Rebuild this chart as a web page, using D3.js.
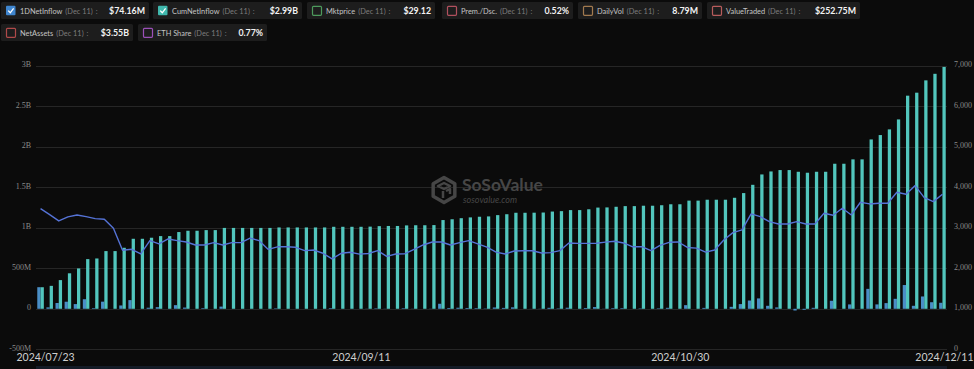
<!DOCTYPE html>
<html><head><meta charset="utf-8">
<script src="https://cdn.jsdelivr.net/npm/d3@7"></script>
<style>
html,body{margin:0;padding:0;background:#0b0b0b;}
svg{display:block;}
</style></head><body>
<svg id="chart" width="974" height="369"></svg>
<script>
// ---------- DATA ----------
const dates = [
"2024/07/23","2024/07/24","2024/07/25","2024/07/26","2024/07/29","2024/07/30","2024/07/31",
"2024/08/01","2024/08/02","2024/08/05","2024/08/06","2024/08/07","2024/08/08","2024/08/09","2024/08/12","2024/08/13","2024/08/14","2024/08/15","2024/08/16","2024/08/19","2024/08/20","2024/08/21","2024/08/22","2024/08/23","2024/08/26","2024/08/27","2024/08/28","2024/08/29","2024/08/30",
"2024/09/03","2024/09/04","2024/09/05","2024/09/06","2024/09/09","2024/09/10","2024/09/11","2024/09/12","2024/09/13","2024/09/16","2024/09/17","2024/09/18","2024/09/19","2024/09/20","2024/09/23","2024/09/24","2024/09/25","2024/09/26","2024/09/27","2024/09/30",
"2024/10/01","2024/10/02","2024/10/03","2024/10/04","2024/10/07","2024/10/08","2024/10/09","2024/10/10","2024/10/11","2024/10/14","2024/10/15","2024/10/16","2024/10/17","2024/10/18","2024/10/21","2024/10/22","2024/10/23","2024/10/24","2024/10/25","2024/10/28","2024/10/29","2024/10/30","2024/10/31",
"2024/11/01","2024/11/04","2024/11/05","2024/11/06","2024/11/07","2024/11/08","2024/11/11","2024/11/12","2024/11/13","2024/11/14","2024/11/15","2024/11/18","2024/11/19","2024/11/20","2024/11/21","2024/11/22","2024/11/25","2024/11/26","2024/11/27","2024/11/29",
"2024/12/02","2024/12/03","2024/12/04","2024/12/05","2024/12/06","2024/12/09","2024/12/10","2024/12/11"
];
// daily net inflow, $M
const netInflow1D = [
266.5,17.4,71.3,87.2,58,118,8,88,0,41,
107,0,13,20,0,45,15,0,8,0,
27,0,0,0,0,0,6,0,0,0,
0,0,8,0,0,0,2,6,2,0,
7,2,0,2,62,10,13,10,8,4,
16,11,18,0,1,2,12,5,13,0,
10,21,2,8,8,0,5,0,6,12,
0,45,0,11,0,0,24,58,102,128,
37,17,0,-21,-12,12,0,99,0,54,
0,246,54,70,123,293,37,152,81,74.16
];
// cumulative net inflow, $M
const cumNetInflow = [
266,283,354,438,498,613,621,712,712,753,
864,864,877,897,897,947,963,963,971,971,
998,998,998,998,998,998,1004,1004,1004,1004,
1004,1004,1012,1012,1012,1012,1014,1020,1022,1022,
1029,1031,1031,1033,1095,1105,1118,1128,1136,1140,
1156,1167,1185,1185,1186,1188,1200,1205,1218,1218,
1228,1249,1251,1259,1267,1267,1272,1272,1278,1290,
1290,1335,1335,1346,1346,1346,1370,1428,1530,1658,
1695,1712,1712,1691,1679,1691,1691,1790,1790,1844,
1844,2090,2144,2214,2337,2630,2667,2819,2900,2985
];
// ETH price (right axis)
const ethPrice = [
3472,3323,3168,3267,3316,3274,3225,3210,2988,2444,
2469,2353,2681,2600,2723,2681,2649,2575,2575,2632,
2575,2632,2632,2745,2681,2465,2530,2530,2518,2435,
2450,2370,2230,2370,2395,2348,2365,2435,2292,2353,
2360,2469,2575,2649,2649,2575,2632,2682,2600,2520,
2400,2353,2427,2432,2432,2378,2386,2435,2625,2614,
2614,2618,2645,2667,2625,2530,2533,2435,2563,2641,
2649,2514,2497,2398,2450,2699,2879,2946,3341,3274,
3151,3094,3094,3151,3094,3094,3358,3309,3481,3316,
3630,3588,3605,3605,3877,3827,4040,3743,3644,3827
];
const xTickLabels = ["2024/07/23","2024/09/11","2024/10/30","2024/12/11"];
const leftTicks = [-500,0,500,1000,1500,2000,2500,3000];
const leftTickLabels = ["-500M","0","500M","1B","1.5B","2B","2.5B","3B"];
const rightTicks = [0,1000,2000,3000,4000,5000,6000,7000];
const legendNames = ["1DNetInflow","CumNetInflow","Mktprice","Prem./Dsc.","DailyVol","ValueTraded","NetAssets","ETH Share"];
const legendValues = ["$74.16M","$2.99B","$29.12","0.52%","8.79M","$252.75M","$3.55B","0.77%"];
const legendChecked = [true,true,false,false,false,false,false,false];
const legendColors = ["#3f86cf","#3fb8ad","#4d9a5c","#b1505e","#a27a4f","#b85c5c","#b04a4a","#9b50b8"];
const legendDate = "(Dec 11)";

// ---------- LAYOUT ----------
const W = 974, H = 369;
const legendBoxX = [1,153,307,442,578,707,1,138];
const legendBoxY = [2,2,2,2,2,2,24,24];
const legendBoxW = [148,149,128,131,124,153,132,129];

// ---------- CHART ----------
const svg = d3.select("#chart");
svg.append("rect").attr("width",W).attr("height",H).attr("fill","#0b0b0b");

const plot = {left:36, right:947, top:65.7, bottom:349.3};
const x = d3.scaleBand().domain(dates).range([plot.left, plot.right]).paddingInner(0.28).paddingOuter(0.14);
const xSub = d3.scaleBand().domain(["1D","Cum"]).range([0, x.bandwidth()]);
const yL = d3.scaleLinear().domain([-500, 3000]).range([plot.bottom, plot.top]);
const yR = d3.scaleLinear().domain([0, 7000]).range([plot.bottom, plot.top]);

// gridlines
svg.append("g").selectAll("line").data(leftTicks).join("line")
  .attr("x1", plot.left).attr("x2", plot.right)
  .attr("y1", d => Math.round(yL(d))+0.5).attr("y2", d => Math.round(yL(d))+0.5)
  .attr("stroke", "#262626").attr("stroke-width", 1);

// watermark
const wm = svg.append("g");
const cx = 444, cy = 190, r = 12.5;
const hex = d3.range(6).map(i => { const a = Math.PI/3*i - Math.PI/2; return [cx + r*Math.cos(a), cy + r*Math.sin(a)]; });
wm.append("path").attr("d", d3.line()(hex) + "Z").attr("fill","none").attr("stroke","#464646").attr("stroke-width",3.5).attr("stroke-linejoin","round");
wm.append("path").attr("d", `M${cx-6},${cy-4} L${cx},${cy-7} L${cx+6},${cy-4} L${cx},${cy-1} Z M${cx-1},${cy+1} L${cx-1},${cy+8} M${cx+2},${cy+1} L${cx+6},${cy-1} L${cx+6},${cy+4}`)
  .attr("fill","none").attr("stroke","#464646").attr("stroke-width",2.5).attr("stroke-linejoin","round");
wm.append("text").attr("x", 462).attr("y", 191).attr("font-family","Lato, 'Open Sans', sans-serif")
  .attr("font-weight", 700).attr("font-size", 17.5).attr("fill","#464646").text("SoSoValue");
wm.append("text").attr("x", 463).attr("y", 202.5).attr("font-family","Lato, 'Open Sans', sans-serif")
  .attr("font-style","italic").attr("font-size", 9).attr("fill","#464646").text("sosovalue.com");

// bars
const bars = svg.append("g");
bars.selectAll("rect.d").data(dates).join("rect").attr("class","d")
  .attr("x", d => x(d) + xSub("1D"))
  .attr("width", xSub.bandwidth())
  .attr("y", (d,i) => yL(Math.max(0, netInflow1D[i])))
  .attr("height", (d,i) => Math.abs(yL(netInflow1D[i]) - yL(0)))
  .attr("fill", "#4a8ec6");
bars.selectAll("rect.c").data(dates).join("rect").attr("class","c")
  .attr("x", d => x(d) + xSub("Cum"))
  .attr("width", xSub.bandwidth())
  .attr("y", (d,i) => yL(Math.max(0, cumNetInflow[i])))
  .attr("height", (d,i) => Math.abs(yL(cumNetInflow[i]) - yL(0)))
  .attr("fill", "#52c6bd");

// line
const line = d3.line().x((d,i) => x(dates[i]) + x.bandwidth()/2).y(d => yR(d));
svg.append("path").datum(ethPrice).attr("d", line)
  .attr("fill","none").attr("stroke","#5573d6").attr("stroke-width",1.4).attr("stroke-linejoin","round");

// left axis
const axL = svg.append("g").attr("transform", `translate(${plot.left-5},-1.5)`)
  .call(d3.axisLeft(yL).tickValues(leftTicks).tickSize(0).tickPadding(0)
    .tickFormat((d,i) => leftTickLabels[i]));
axL.select(".domain").remove();
axL.selectAll("text").attr("font-family","'Liberation Serif', serif").attr("font-size",8).attr("fill","#8a8a8a");

// right axis
const axR = svg.append("g").attr("transform", `translate(${plot.right+7},-1.5)`)
  .call(d3.axisRight(yR).tickValues(rightTicks).tickSize(0).tickPadding(0).tickFormat(d3.format(",")));
axR.select(".domain").remove();
axR.selectAll("text").attr("font-family","'Liberation Serif', serif").attr("font-size",8).attr("fill","#8a8a8a");

// bottom axis
const axB = svg.append("g").attr("transform", `translate(2,${plot.bottom+1.5})`)
  .call(d3.axisBottom(x).tickValues(xTickLabels).tickSize(0).tickPadding(3));
axB.select(".domain").remove();
axB.selectAll("text").attr("font-family","Lato, sans-serif").attr("font-size",10.5).attr("fill","#cfcfcf")
  .attr("dx", (d,i) => i === 0 ? 3 : 0);

// slider hint at the very bottom
svg.append("rect").attr("x", plot.left).attr("y", 366).attr("width", plot.right-plot.left).attr("height", 3).attr("fill","#141b26");

// ---------- LEGEND ----------
const leg = svg.append("g");
const rowH = 17;
legendNames.forEach((name, i) => {
  const g = leg.append("g").attr("transform", `translate(${legendBoxX[i]},${legendBoxY[i]})`);
  const w = legendBoxW[i];
  g.append("rect").attr("fill","#1d1d1d").attr("rx",1.5).attr("width", w).attr("height", rowH);
  const t1 = g.append("text").attr("x", 19).attr("y", 11.5).attr("font-family","Lato, sans-serif").attr("font-size",7.4).attr("fill","#c4c4c4").text(name);
  const w1 = t1.node().getComputedTextLength();
  const t2 = g.append("text").attr("x", 19 + w1 + 3).attr("y", 11.5).attr("font-family","Lato, sans-serif").attr("font-size",7.4).attr("fill","#7c7c7c").text(legendDate);
  const w2 = t2.node().getComputedTextLength();
  g.append("text").attr("x", 19 + w1 + 3 + w2 + 3).attr("y", 11.5).attr("font-family","Lato, sans-serif").attr("font-size",7.4).attr("fill","#7c7c7c").text(":");
  g.append("text").attr("x", w - 4).attr("y", 12).attr("text-anchor","end").attr("font-family","Lato, sans-serif").attr("font-weight",700).attr("font-size",8.8).attr("fill","#f2f2f2").text(legendValues[i]);
  const c = legendColors[i];
  if (legendChecked[i]) {
    g.append("rect").attr("x",5).attr("y",3.8).attr("width",9.5).attr("height",9.5).attr("rx",1).attr("fill",c);
    g.append("path").attr("d","M7.2,8.6 L9.3,10.8 L12.6,6.4").attr("fill","none").attr("stroke","#ffffff").attr("stroke-width",1.3);
  } else {
    g.append("rect").attr("x",5.5).attr("y",4.3).attr("width",9).attr("height",9).attr("rx",1).attr("fill","none").attr("stroke",c).attr("stroke-width",1.2);
  }
});
</script>
</body></html>
